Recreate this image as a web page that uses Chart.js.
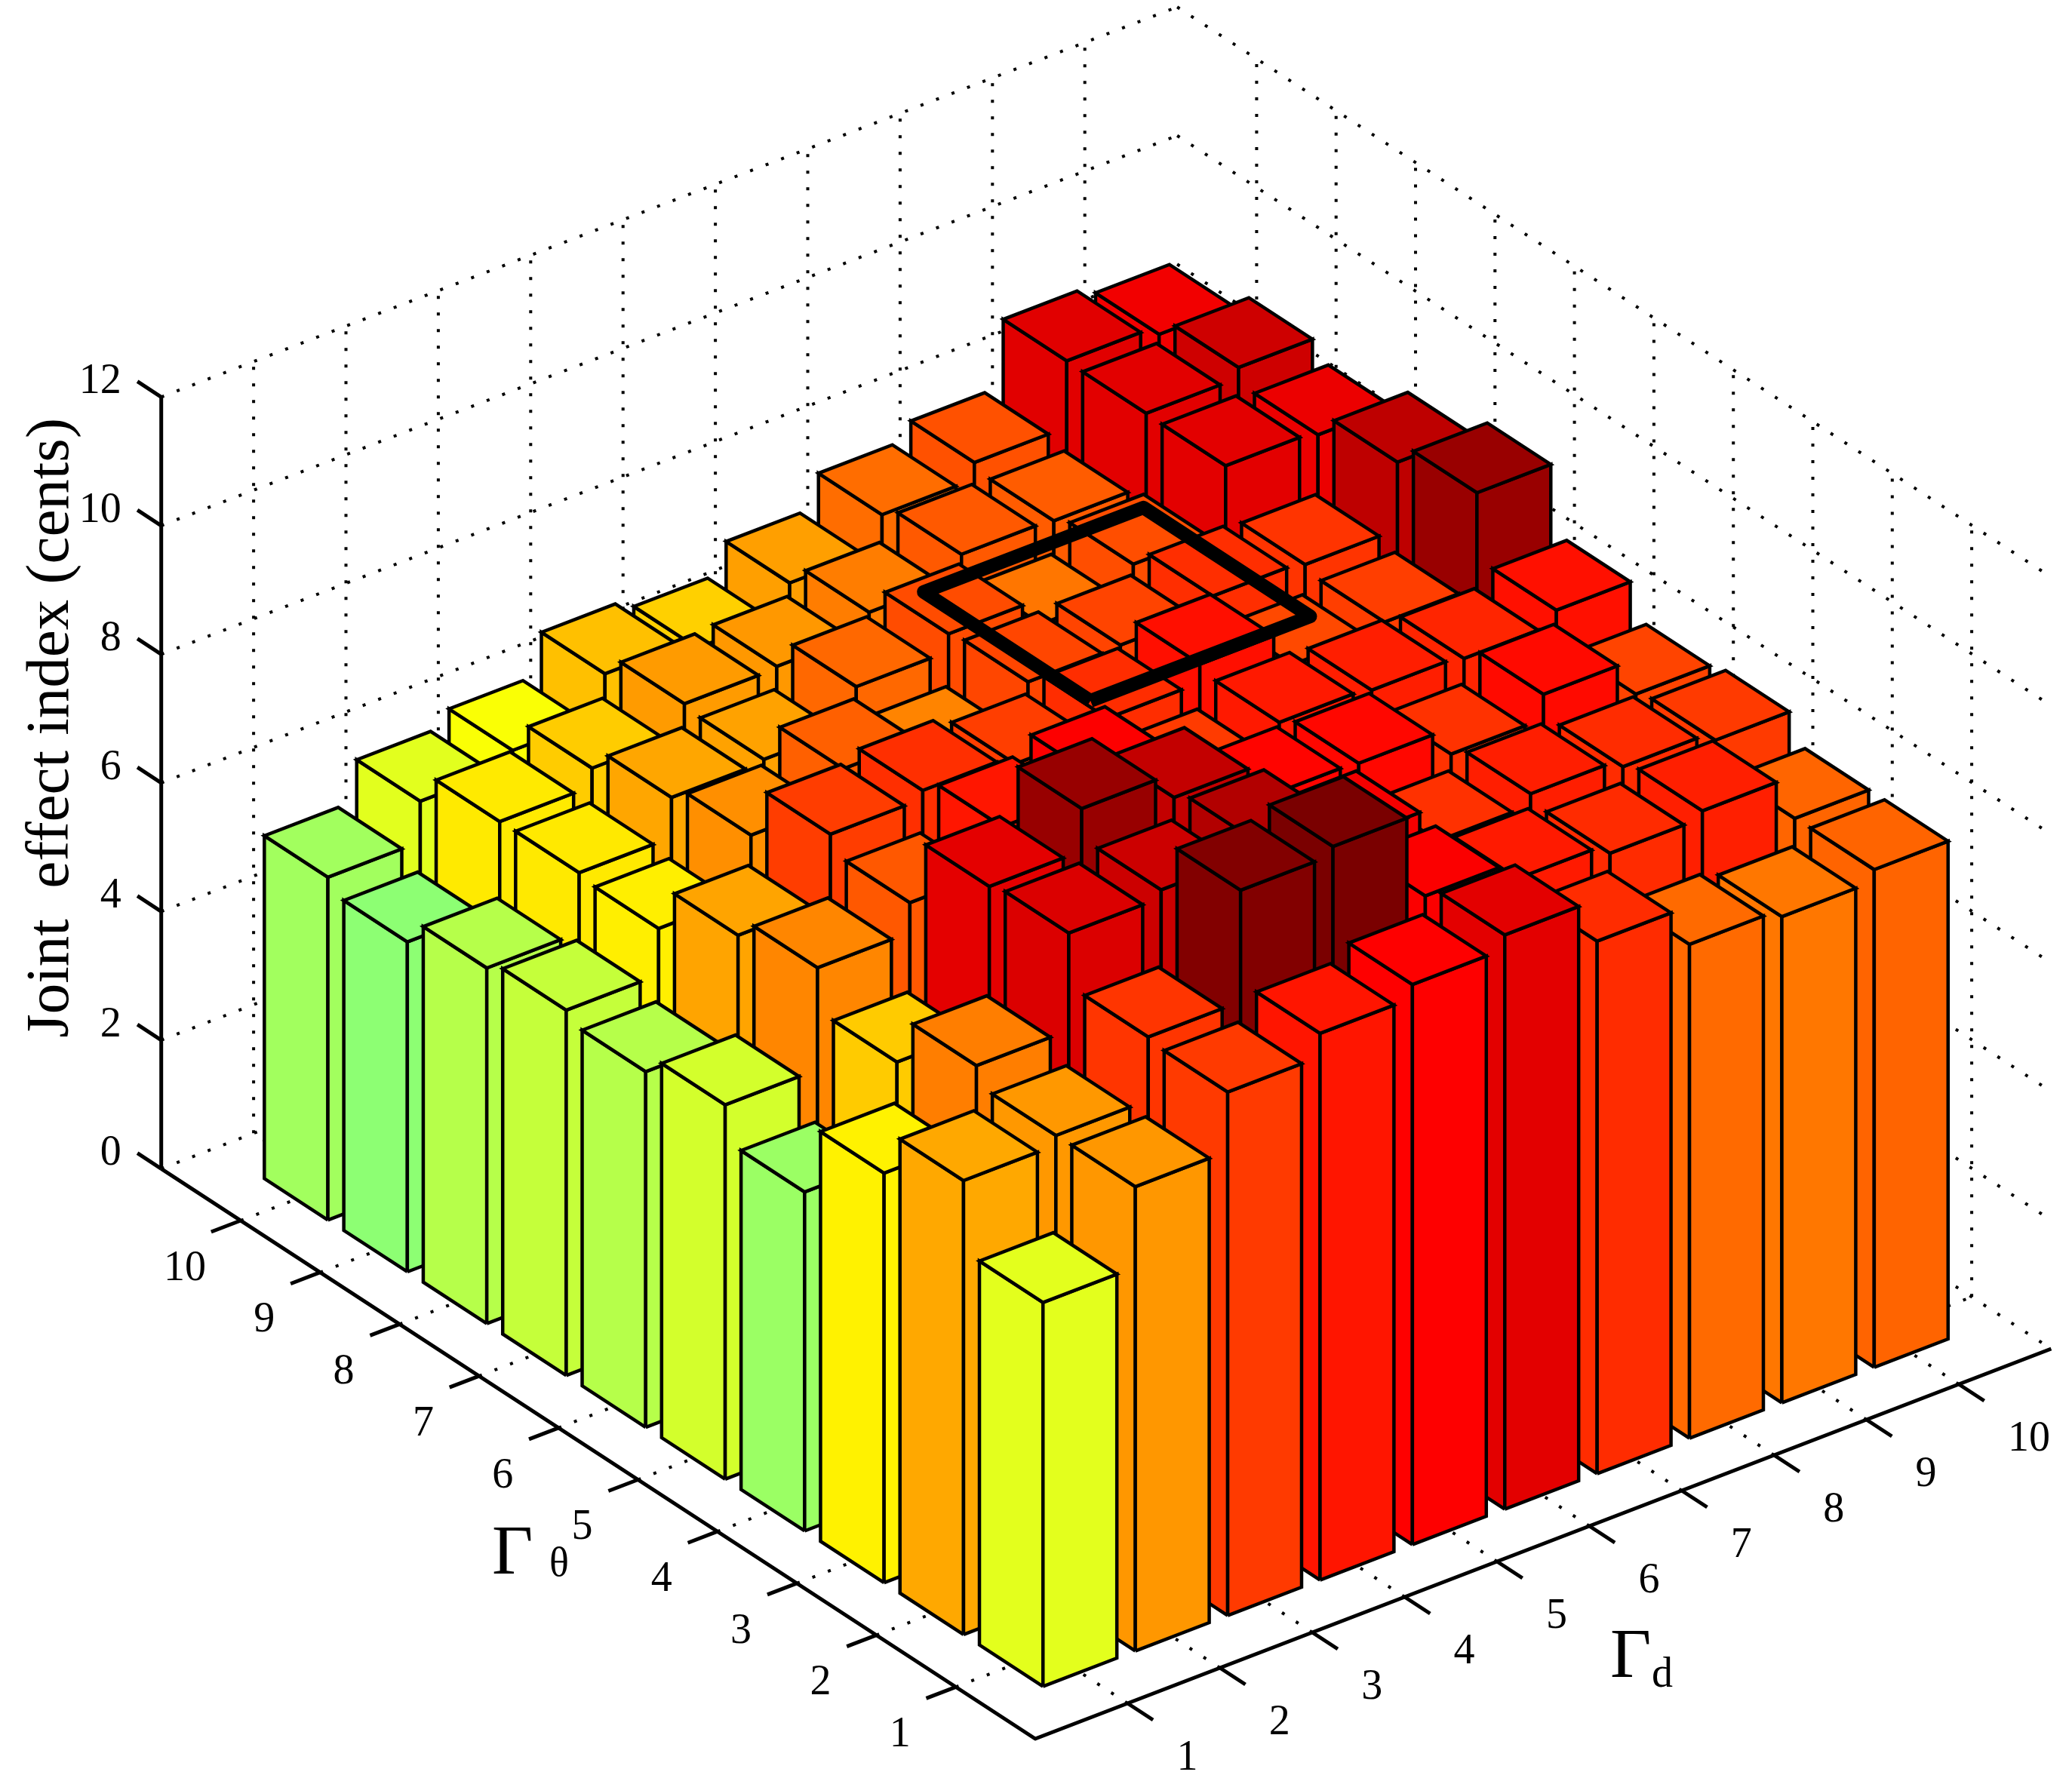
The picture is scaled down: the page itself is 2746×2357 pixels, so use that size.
<!DOCTYPE html>
<html>
<head>
<meta charset="utf-8">
<style>
  html, body { margin: 0; padding: 0; background: #fff; }
  canvas { display: block; }
</style>
<script src="https://cdn.jsdelivr.net/npm/chart.js@4"></script>
</head>
<body>
<canvas id="chart" width="2746" height="2357"></canvas>
<script>
// tick labels
const dTicks = [1, 2, 3, 4, 5, 6, 7, 8, 9, 10];
const thetaTicks = [1, 2, 3, 4, 5, 6, 7, 8, 9, 10];
const zTicks = [0, 2, 4, 6, 8, 10, 12];

// joint effect index, one list per Gamma-theta value, running along Gamma-d 1..10
const theta1 = [5.97, 7.22, 8.14, 8.50, 8.71, 8.93, 8.28, 7.68, 7.56, 7.74];
const theta2 = [7.06, 7.21, 8.19, 9.92, 10.05, 8.73, 8.45, 8.29, 8.40, 7.73];
const theta3 = [6.37, 7.49, 9.00, 9.12, 9.35, 8.78, 8.23, 8.41, 8.28, 8.14];
const theta4 = [5.27, 6.74, 8.92, 9.58, 9.20, 8.66, 8.63, 8.22, 8.60, 8.05];
const theta5 = [5.82, 7.40, 7.86, 8.49, 8.72, 8.13, 8.46, 8.41, 8.35, 8.55];
const theta6 = [5.53, 7.10, 8.12, 8.25, 8.11, 8.27, 8.56, 8.00, 8.11, 9.57];
const theta7 = [5.68, 6.40, 7.30, 7.78, 7.42, 8.03, 8.05, 8.26, 8.20, 9.24];
const theta8 = [5.53, 6.46, 7.08, 7.12, 7.70, 7.97, 7.57, 7.95, 8.93, 8.86];
const theta9 = [5.13, 6.45, 6.73, 7.18, 7.21, 7.50, 7.85, 7.82, 8.94, 9.10];
const theta10 = [5.33, 5.96, 6.20, 6.84, 6.69, 7.15, 7.66, 7.92, 8.95, 8.81];
const rows = [theta1, theta2, theta3, theta4, theta5, theta6, theta7, theta8, theta9, theta10];

// the highlighted region, in axis units
const frameD = [5.33, 7.71];
const frameTheta = [5.5, 7.6];
const frameZ = 8.77;

// colormap stops (jet-like, keyed on bar height)
const mapZ = [5.0, 6.25, 7.25, 7.55, 8.7, 9.12, 9.57, 10.05];
const mapRGB = [[128, 255, 128], [255, 255, 0], [255, 148, 0], [255, 120, 0], [255, 0, 0], [204, 0, 0], [153, 0, 0], [122, 0, 0]];

function colorFor(z) {
  if (z <= mapZ[0]) return `rgb(${mapRGB[0].join(",")})`;
  for (let i = 1; i < mapZ.length; i++) {
    if (z <= mapZ[i]) {
      const t = (z - mapZ[i - 1]) / (mapZ[i] - mapZ[i - 1]);
      const c = mapRGB[i].map((v, k) => Math.round(mapRGB[i - 1][k] + (v - mapRGB[i - 1][k]) * t));
      return `rgb(${c.join(",")})`;
    }
  }
  return `rgb(${mapRGB[mapRGB.length - 1].join(",")})`;
}

// orthographic view: front floor corner and one axis unit on each axis
const origin = [1372, 2305];
const unitD = [122.4, -47];
const unitT = [-105.3, -68.7];
const unitZ = 85.25;
const AXIS_MAX = 11;
const Z_MAX = 12;
const HALF = 0.4;

function project(d, t, z) {
  return {
    x: origin[0] + d * unitD[0] + t * unitT[0],
    y: origin[1] + d * unitD[1] + t * unitT[1] - z * unitZ
  };
}

const datasets = [];

function addLine(points, color, width, dash) {
  datasets.push({
    data: points,
    borderColor: color,
    borderWidth: width,
    borderDash: dash || [],
    borderJoinStyle: "round",
    fill: false
  });
}

function addFace(points, color) {
  datasets.push({
    data: points.concat([points[0]]),
    borderColor: "#000",
    borderWidth: 4.5,
    borderJoinStyle: "miter",
    backgroundColor: color,
    fill: "shape"
  });
}

// --- dotted grid: two back walls and the floor ---
const DOT = [4, 18];
zTicks.forEach(z => {
  addLine([project(0, AXIS_MAX, z), project(AXIS_MAX, AXIS_MAX, z)], "#000", 4, DOT);
  addLine([project(AXIS_MAX, AXIS_MAX, z), project(AXIS_MAX, 0, z)], "#000", 4, DOT);
});
dTicks.forEach(d => {
  addLine([project(d, AXIS_MAX, 0), project(d, AXIS_MAX, Z_MAX)], "#000", 4, DOT);
  addLine([project(d, 0, 0), project(d, AXIS_MAX, 0)], "#000", 4, DOT);
});
thetaTicks.forEach(t => {
  addLine([project(AXIS_MAX, t, 0), project(AXIS_MAX, t, Z_MAX)], "#000", 4, DOT);
  addLine([project(0, t, 0), project(AXIS_MAX, t, 0)], "#000", 4, DOT);
});

// --- axes and tick marks ---
addLine([project(0, AXIS_MAX, 0), project(0, AXIS_MAX, Z_MAX)], "#000", 5);
addLine([project(0, AXIS_MAX, 0), project(0, 0, 0), project(AXIS_MAX, 0, 0)], "#000", 5);
zTicks.forEach(z => addLine([project(0, AXIS_MAX, z), project(0, AXIS_MAX + 0.3, z)], "#000", 5));
dTicks.forEach(d => addLine([project(d, 0, 0), project(d, -0.32, 0)], "#000", 5));
thetaTicks.forEach(t => addLine([project(0, t, 0), project(-0.32, t, 0)], "#000", 5));

// --- bars, far to near so nearer ones cover the rest ---
for (let t = rows.length; t >= 1; t--) {
  for (let d = rows[t - 1].length; d >= 1; d--) {
    const z = rows[t - 1][d - 1];
    const color = colorFor(z);
    const d0 = d - HALF, d1 = d + HALF, t0 = t - HALF, t1 = t + HALF;
    addFace([project(d0, t0, 0), project(d0, t1, 0), project(d0, t1, z), project(d0, t0, z)], color);
    addFace([project(d0, t0, 0), project(d1, t0, 0), project(d1, t0, z), project(d0, t0, z)], color);
    addFace([project(d0, t0, z), project(d1, t0, z), project(d1, t1, z), project(d0, t1, z)], color);
  }
}

// --- thick frame on top of everything ---
addLine([
  project(frameD[0], frameTheta[0], frameZ),
  project(frameD[1], frameTheta[0], frameZ),
  project(frameD[1], frameTheta[1], frameZ),
  project(frameD[0], frameTheta[1], frameZ),
  project(frameD[0], frameTheta[0], frameZ)
], "#000", 18);

// Chart.js paints the first dataset last
datasets.reverse();

const SERIF = '"Liberation Serif"';

const axisText = {
  id: "axisText",
  afterDatasetsDraw(chart) {
    const { ctx, scales } = chart;
    const px = p => [scales.x.getPixelForValue(p.x), scales.y.getPixelForValue(p.y)];
    const put = (text, x, y, font, align, base) => {
      ctx.font = font;
      ctx.textAlign = align;
      ctx.textBaseline = base;
      ctx.fillText(text, x, y);
    };
    ctx.save();
    ctx.fillStyle = "#000";
    const tickFont = `56px ${SERIF}`;

    zTicks.forEach(z => {
      const [x, y] = px(project(0, AXIS_MAX, z));
      put(String(z), x - 53, y - 20, tickFont, "right", "middle");
    });
    thetaTicks.forEach(t => {
      const [x, y] = px(project(0, t, 0));
      put(String(t), x - 74, y + 64, tickFont, "center", "middle");
    });
    dTicks.forEach(d => {
      const [x, y] = px(project(d, 0, 0));
      put(String(d), x + 65, y + 73, tickFont, "left", "middle");
    });

    put("\u0393", 652, 2086, `94px ${SERIF}`, "left", "alphabetic");
    put("\u03b8", 728, 2089, `54px ${SERIF}`, "left", "alphabetic");
    put("\u0393", 2134, 2223, `94px ${SERIF}`, "left", "alphabetic");
    put("d", 2189, 2236, `56px ${SERIF}`, "left", "alphabetic");

    ctx.translate(90, 965);
    ctx.rotate(-Math.PI / 2);
    put("Joint  effect index (cents)", 0, 0, `81px ${SERIF}`, "center", "alphabetic");
    ctx.restore();
  }
};

new Chart(document.getElementById("chart").getContext("2d"), {
  type: "line",
  data: { datasets },
  options: {
    responsive: false,
    devicePixelRatio: 1,
    animation: false,
    layout: { padding: 0 },
    elements: { point: { radius: 0 }, line: { tension: 0 } },
    plugins: { legend: { display: false }, tooltip: { enabled: false } },
    scales: {
      x: { type: "linear", display: false, min: 0, max: 2746 },
      y: { type: "linear", display: false, min: 0, max: 2357, reverse: true }
    }
  },
  plugins: [axisText]
});
</script>
</body>
</html>
